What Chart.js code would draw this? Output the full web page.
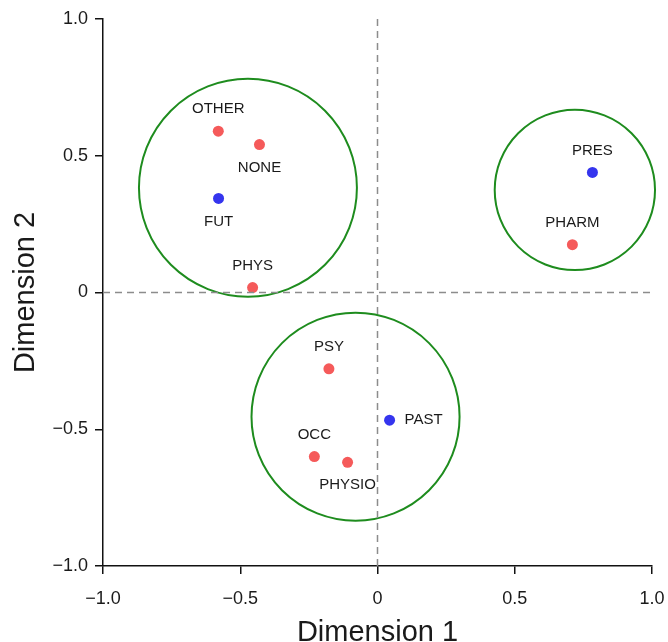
<!DOCTYPE html>
<html lang="en">
<head>
  <meta charset="UTF-8">
  <title>Dimension plot</title>
  <script src="https://cdn.jsdelivr.net/npm/chart.js"></script>
  <style>
    body { margin: 0; background: #fff; }
    #wrap { width: 668px; height: 642px; position: relative; }
  </style>
</head>
<body>
  <div id="wrap"><canvas id="dimChart"></canvas></div>
  <script>
    // categories (red) and time points (blue)
    const redNames = ["OTHER", "NONE", "PHYS", "PHARM", "PSY", "OCC", "PHYSIO"];
    const redX = [-0.58, -0.43, -0.455, 0.71, -0.177, -0.23, -0.109];
    const redY = [0.59, 0.541, 0.018, 0.175, -0.279, -0.60, -0.621];

    const blueNames = ["FUT", "PRES", "PAST"];
    const blueX = [-0.579, 0.783, 0.044];
    const blueY = [0.344, 0.439, -0.467];

    // cluster circles (data units)
    const circleX = [-0.472, 0.719, -0.08];
    const circleY = [0.383, 0.375, -0.454];
    const circleR = [0.397, 0.292, 0.379];

    const tickValues = [-1, -0.5, 0, 0.5, 1];
    const tickLabels = ["\u22121.0", "\u22120.5", "0", "0.5", "1.0"];

    const FONT = "'Liberation Sans', Arial, sans-serif";

    // where each label sits relative to its point
    const labelSide = {
      OTHER: "above", NONE: "below", PHYS: "above", PHARM: "above",
      PSY: "above", OCC: "above", PHYSIO: "below",
      FUT: "below", PRES: "above", PAST: "right"
    };

    function toPoints(xs, ys) {
      return xs.map((x, i) => ({ x: x, y: ys[i] }));
    }

    const circlesPlugin = {
      id: "circles",
      beforeDatasetsDraw(chart) {
        const ctx = chart.ctx;
        const sx = chart.scales.x, sy = chart.scales.y;
        ctx.save();
        ctx.strokeStyle = "#1e8c1e";
        ctx.lineWidth = 2;
        for (let i = 0; i < circleX.length; i++) {
          const cx = sx.getPixelForValue(circleX[i]);
          const cy = sy.getPixelForValue(circleY[i]);
          const r = sx.getPixelForValue(circleX[i] + circleR[i]) - cx;
          ctx.beginPath();
          ctx.arc(cx, cy, r, 0, Math.PI * 2);
          ctx.stroke();
        }
        ctx.restore();
      }
    };

    const labelsPlugin = {
      id: "pointLabels",
      afterDatasetsDraw(chart) {
        const ctx = chart.ctx;
        ctx.save();
        ctx.font = "15px " + FONT;
        ctx.fillStyle = "#1a1a1a";
        ctx.textBaseline = "middle";
        chart.data.datasets.forEach((ds, di) => {
          if (!ds.names) return;
          const meta = chart.getDatasetMeta(di);
          meta.data.forEach((pt, j) => {
            const name = ds.names[j];
            const side = labelSide[name];
            if (side === "right") {
              ctx.textAlign = "left";
              ctx.fillText(name, pt.x + 15, pt.y);
            } else {
              ctx.textAlign = "center";
              ctx.fillText(name, pt.x, side === "above" ? pt.y - 22 : pt.y + 23);
            }
          });
        });
        ctx.restore();
      }
    };

    const zeroLine = {
      type: "line",
      borderColor: "#8c8c8c",
      borderWidth: 1.5,
      borderDash: [7, 5],
      pointRadius: 0,
      fill: false
    };

    new Chart(document.getElementById("dimChart"), {
      type: "scatter",
      data: {
        datasets: [
          Object.assign({ data: [{ x: -1, y: 0 }, { x: 1, y: 0 }] }, zeroLine),
          Object.assign({ data: [{ x: 0, y: -1 }, { x: 0, y: 1 }] }, zeroLine),
          {
            names: redNames,
            data: toPoints(redX, redY),
            backgroundColor: "#f55a5a",
            borderWidth: 0,
            pointRadius: 5.5
          },
          {
            names: blueNames,
            data: toPoints(blueX, blueY),
            backgroundColor: "#3535ee",
            borderWidth: 0,
            pointRadius: 5.5
          }
        ]
      },
      options: {
        responsive: true,
        maintainAspectRatio: false,
        animation: false,
        layout: { padding: { top: 19, right: 16, left: 0, bottom: 0 } },
        plugins: { legend: { display: false }, tooltip: { enabled: false } },
        scales: {
          x: {
            min: -1, max: 1,
            afterFit: (s) => { s.height = 76; s.paddingLeft = 0; s.paddingRight = 0; },
            afterBuildTicks: (s) => { s.ticks = tickValues.map(v => ({ value: v })); },
            border: { color: "#111", width: 1.5 },
            grid: { drawOnChartArea: false, color: "#111", lineWidth: 1.5, tickLength: 8 },
            ticks: {
              padding: 14,
              color: "#1a1a1a",
              font: { family: FONT, size: 18 },
              maxRotation: 0,
              callback: (v) => tickLabels[tickValues.indexOf(v)]
            },
            title: {
              display: true, text: "Dimension 1", color: "#1a1a1a",
              font: { family: FONT, size: 29, lineHeight: 0.64 },
              padding: 0
            }
          },
          y: {
            min: -1, max: 1,
            afterFit: (s) => { s.width = 103; },
            afterBuildTicks: (s) => { s.ticks = tickValues.map(v => ({ value: v })); },
            border: { color: "#111", width: 1.5 },
            grid: { drawOnChartArea: false, color: "#111", lineWidth: 1.5, tickLength: 8 },
            ticks: {
              padding: 7,
              color: "#1a1a1a",
              font: { family: FONT, size: 18 },
              callback: (v) => tickLabels[tickValues.indexOf(v)]
            },
            title: {
              display: true, text: "Dimension 2", color: "#1a1a1a",
              font: { family: FONT, size: 29, lineHeight: 0.64 },
              padding: { top: 17, bottom: 0 }
            }
          }
        }
      },
      plugins: [circlesPlugin, labelsPlugin]
    });
  </script>
</body>
</html>
